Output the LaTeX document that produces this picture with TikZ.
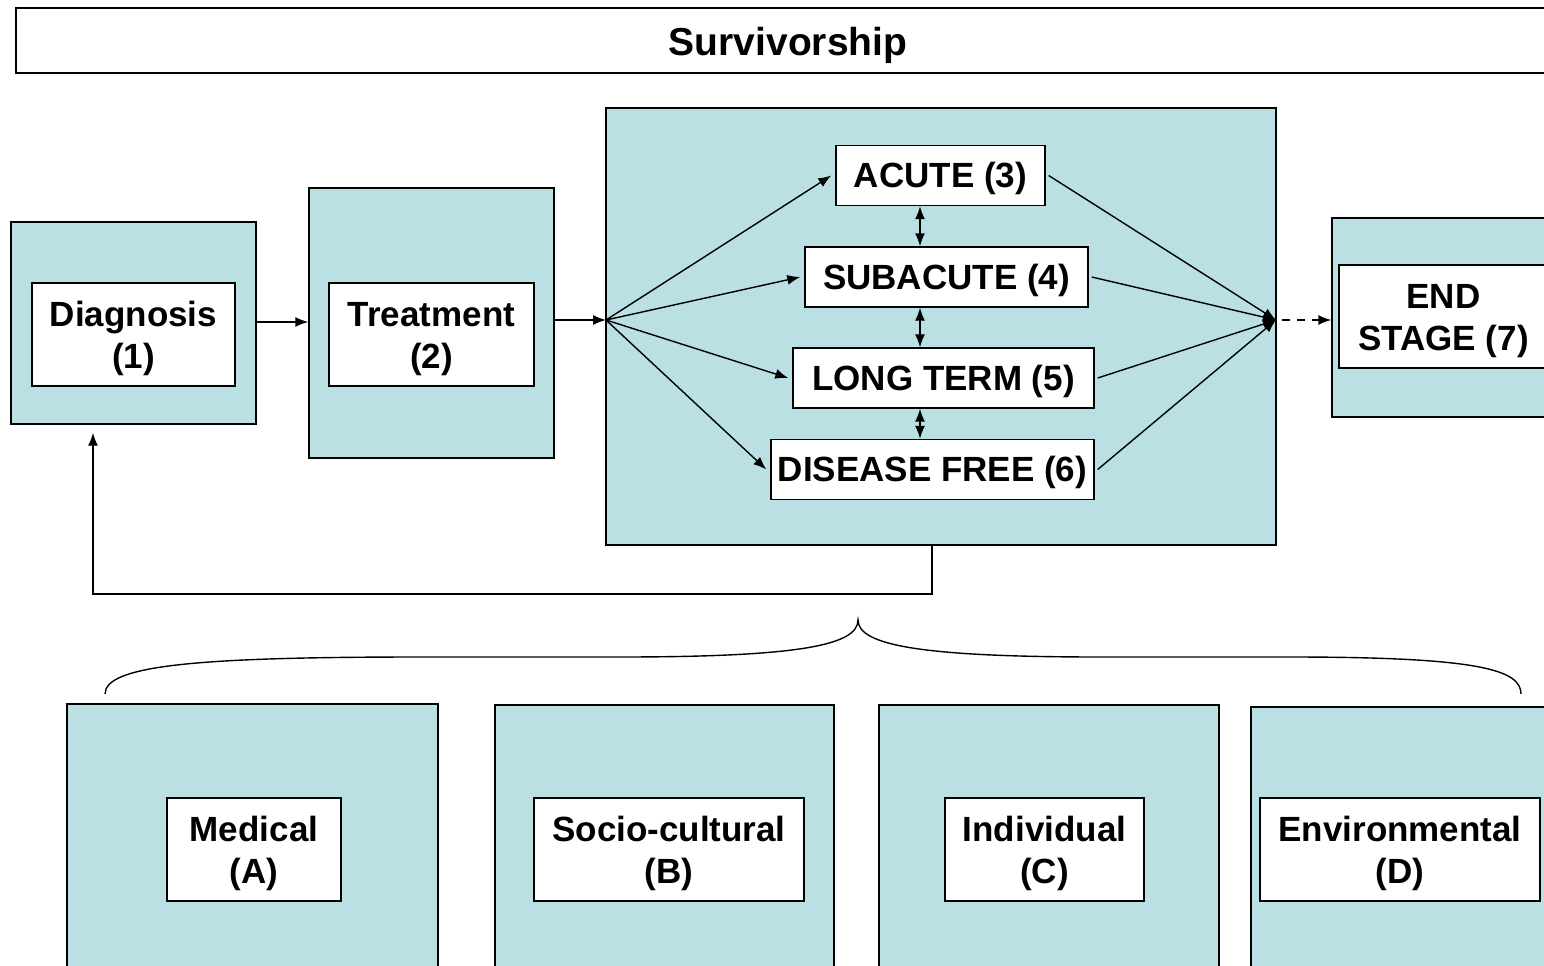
\documentclass[tikz,border=0pt]{standalone}
\usepackage{fontspec}
\setmainfont{Liberation Sans}
\usetikzlibrary{arrows.meta}
\definecolor{panel}{RGB}{186,224,227}
\begin{document}
\begin{tikzpicture}
  [x=1pt,y=-1pt,line width=1.4pt,>={Latex[length=13pt,width=10pt]},
   every node/.style={draw,inner sep=0pt,align=center,font=\fontsize{35}{42}\selectfont\bfseries}]
  \tikzstyle{panelbox} = [fill=panel]
  \tikzstyle{labelbox} = [fill=white,minimum height=103pt,text height=74.5pt,text depth=7.5pt]
  \tikzstyle{stagebox} = [fill=white,minimum height=60pt,text height=31.5pt]
  \useasboundingbox (0,0) rectangle (1544,966);

  % title bar
  \node[minimum width=1544pt,minimum height=65pt,text height=38pt,font=\fontsize{39}{44}\selectfont\bfseries] (title) at (788,40.5) {Survivorship};

  % outer panels
  \node[panelbox,minimum width=245pt,minimum height=202pt] (b1) at (133.5,323) {};
  \node[panelbox,minimum width=245pt,minimum height=270pt] (b2) at (431.5,323) {};
  \node[panelbox,minimum width=670pt,minimum height=437pt] (big) at (941,326.5) {};
  \node[panelbox,minimum width=224pt,minimum height=199pt] (b7) at (1444,317.5) {};
  \node[panelbox,minimum width=371pt,minimum height=300pt] (bA) at (252.5,854) {};
  \node[panelbox,minimum width=339pt,minimum height=300pt] (bB) at (664.5,855) {};
  \node[panelbox,minimum width=340pt,minimum height=300pt] (bC) at (1049,855) {};
  \node[panelbox,minimum width=300pt,minimum height=300pt] (bD) at (1401,857) {};

  % stages
  \node[labelbox,minimum width=203pt] (n1) at (133.5,334.5) {Diagnosis\\(1)};
  \node[labelbox,minimum width=205pt] (n2) at (431.5,334.5) {Treatment\\(2)};
  \node[stagebox,minimum width=209pt] (n3) at (940.5,175.5) {ACUTE (3)};
  \node[stagebox,minimum width=283pt] (n4) at (946.5,277) {SUBACUTE (4)};
  \node[stagebox,minimum width=301pt] (n5) at (943.5,378) {LONG TERM (5)};
  \node[stagebox,minimum width=323pt] (n6) at (932.5,469.5) {DISEASE FREE (6)};
  \node[labelbox,minimum width=209pt] (n7) at (1443.5,316.5) {END\\STAGE (7)};

  % factors
  \node[labelbox,minimum width=174pt] (fA) at (254,849.5) {Medical\\(A)};
  \node[labelbox,minimum width=270pt] (fB) at (669,849.5) {Socio-cultural\\(B)};
  \node[labelbox,minimum width=199pt] (fC) at (1044.5,849.5) {Individual\\(C)};
  \node[labelbox,minimum width=280pt] (fD) at (1400,849.5) {Environmental\\(D)};

  \coordinate (hubL) at (606,320);
  \coordinate (hubR) at (1276,320);
  \coordinate (vx) at (920,0);
  \coordinate (fb1) at (932,594);
  \coordinate (fb2) at (93,594);

  \draw[->] (b1.east |- 0,322) -- (b2.west |- 0,322);
  \draw[->] (b2.east |- hubL) -- (hubL);
\foreach \dest in {n3,n4,n5,n6}
   \draw[->] (hubL) -- ([xshift=-4pt]\dest.west);
\foreach \source in {n3,n4,n5,n6}
   \draw[->] ([xshift=3pt]\source.east) -- (hubR);
\foreach \source /\dest in {n3/n4,n4/n5,n5/n6}
   \draw[<->] (\source.south -| vx) -- (\dest.north -| vx);
  \draw[->,dashed,dash pattern=on 8pt off 7pt] ([xshift=6pt]hubR) -- (b7.west |- hubR);

  % feedback loop
  \draw[->] (big.south -| fb1) -- (fb1) -- (fb2) -- ([yshift=-8pt]b1.south -| fb2);

  % brace over the factors
  \draw (105,694) .. controls (105,665) and (200,657) .. (420,657) -- (620,657)
    .. controls (800,657) and (858,645) .. (858,620)
    .. controls (858,645) and (920,657) .. (1100,657) -- (1290,657)
    .. controls (1480,657) and (1521,670) .. (1521,694);
  \end{tikzpicture}
\end{document}
